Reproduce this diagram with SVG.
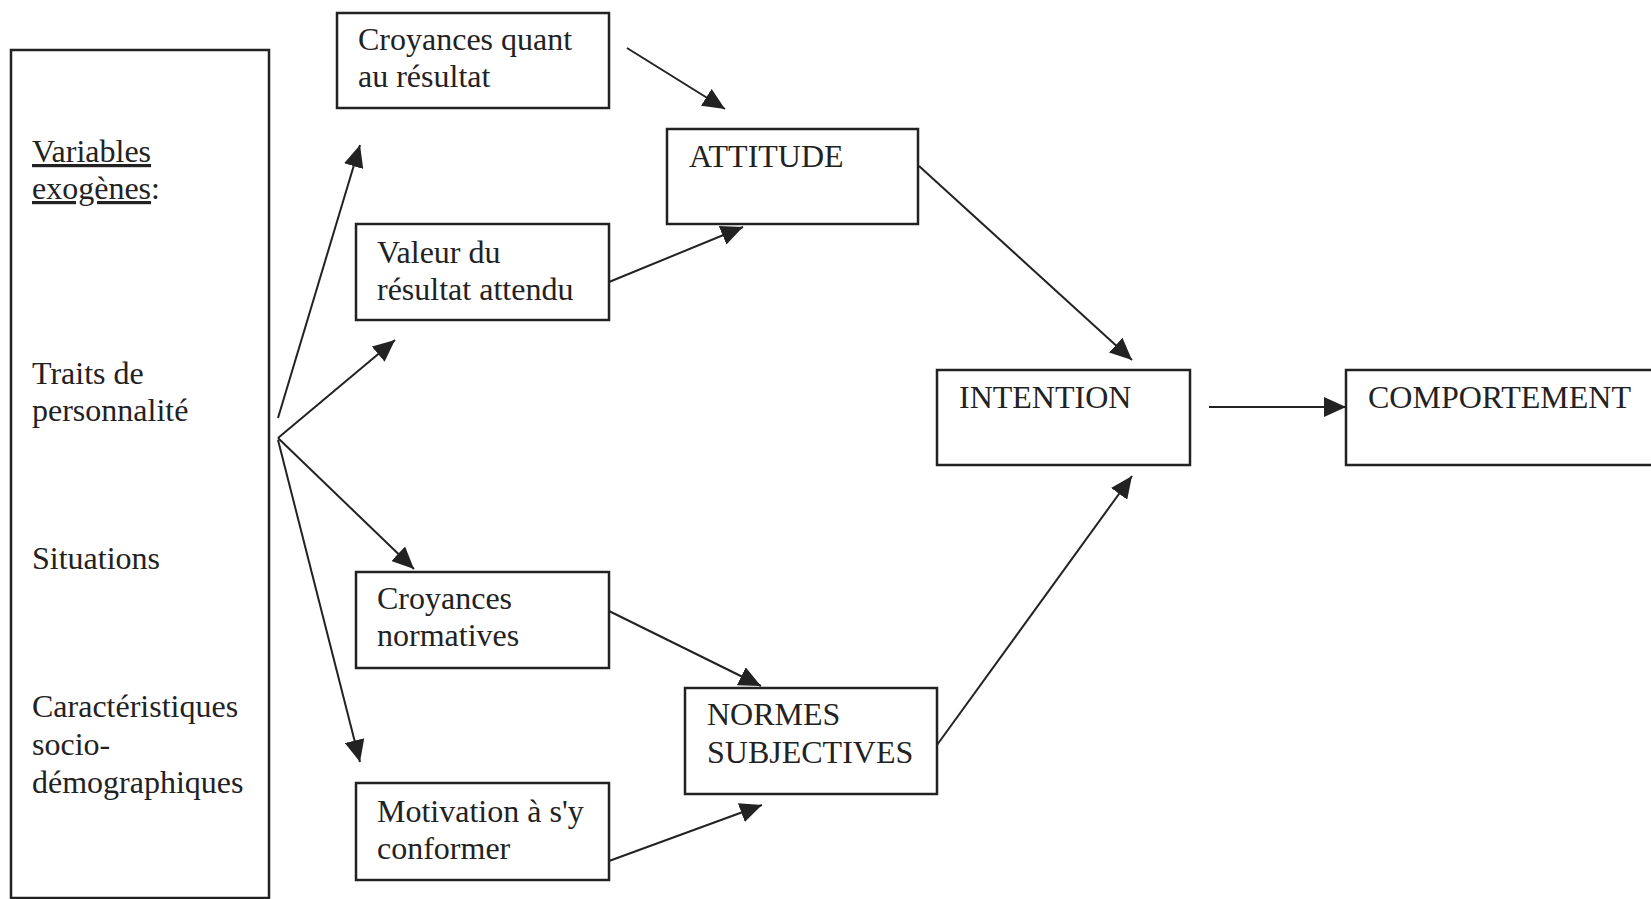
<svg xmlns="http://www.w3.org/2000/svg" width="1651" height="899" viewBox="0 0 1651 899">
<style>
.box{fill:#fff;stroke:#222;stroke-width:2.5}
.t{font-family:"Liberation Serif","Times New Roman",serif;font-size:32px;fill:#222}
.c{stroke:#222;stroke-width:2;fill:none;marker-end:url(#ah)}
.u{text-decoration:underline}
</style>
<defs>
<marker id="ah" markerUnits="userSpaceOnUse" markerWidth="22" markerHeight="20" refX="22" refY="10" orient="auto" viewBox="0 0 22 20">
<path d="M0,0 L22,10 L0,20 z" fill="#222"/>
</marker>
</defs>
<rect width="1651" height="899" fill="#fff"/>
<g id="exogenes">
<rect class="box" x="11" y="50" width="258" height="848"/>
<text class="t" x="32" y="162"><tspan class="u">Variables</tspan></text>
<text class="t" x="32" y="199"><tspan class="u">exogènes</tspan>:</text>
<text class="t" x="32" y="384">Traits de</text>
<text class="t" x="32" y="421">personnalité</text>
<text class="t" x="32" y="569">Situations</text>
<text class="t" x="32" y="717">Caractéristiques</text>
<text class="t" x="32" y="755">socio-</text>
<text class="t" x="32" y="793">démographiques</text>
</g>
<g id="croyances-resultat">
<rect class="box" x="337" y="13" width="272" height="95"/>
<text class="t" x="358" y="50">Croyances quant</text>
<text class="t" x="358" y="87">au résultat</text>
</g>
<g id="valeur">
<rect class="box" x="356" y="224" width="253" height="96"/>
<text class="t" x="377" y="263">Valeur du</text>
<text class="t" x="377" y="300">résultat attendu</text>
</g>
<g id="attitude">
<rect class="box" x="667" y="129" width="251" height="95"/>
<text class="t" x="689" y="167">ATTITUDE</text>
</g>
<g id="intention">
<rect class="box" x="937" y="370" width="253" height="95"/>
<text class="t" x="959" y="408">INTENTION</text>
</g>
<g id="comportement">
<rect class="box" x="1346" y="370" width="320" height="95"/>
<text class="t" x="1368" y="408">COMPORTEMENT</text>
</g>
<g id="croyances-normatives">
<rect class="box" x="356" y="572" width="253" height="96"/>
<text class="t" x="377" y="609">Croyances</text>
<text class="t" x="377" y="646">normatives</text>
</g>
<g id="normes">
<rect class="box" x="685" y="688" width="252" height="106"/>
<text class="t" x="707" y="725">NORMES</text>
<text class="t" x="707" y="763">SUBJECTIVES</text>
</g>
<g id="motivation">
<rect class="box" x="356" y="783" width="253" height="97"/>
<text class="t" x="377" y="822">Motivation à s'y</text>
<text class="t" x="377" y="859">conformer</text>
</g>
<g id="connectors">
<line class="c" x1="627" y1="48" x2="725" y2="109"/>
<line class="c" x1="609" y1="282" x2="743" y2="227"/>
<line class="c" x1="919" y1="166" x2="1132" y2="360"/>
<line class="c" x1="937" y1="745" x2="1132" y2="476"/>
<line class="c" x1="1209" y1="407" x2="1346" y2="407"/>
<line class="c" x1="609" y1="611" x2="761" y2="686"/>
<line class="c" x1="609" y1="861" x2="762" y2="805"/>
<line class="c" x1="278" y1="418" x2="360" y2="145"/>
<line class="c" x1="278" y1="438" x2="395" y2="340"/>
<line class="c" x1="278" y1="438" x2="414" y2="569"/>
<line class="c" x1="278" y1="440" x2="360" y2="762"/>
</g>
</svg>
